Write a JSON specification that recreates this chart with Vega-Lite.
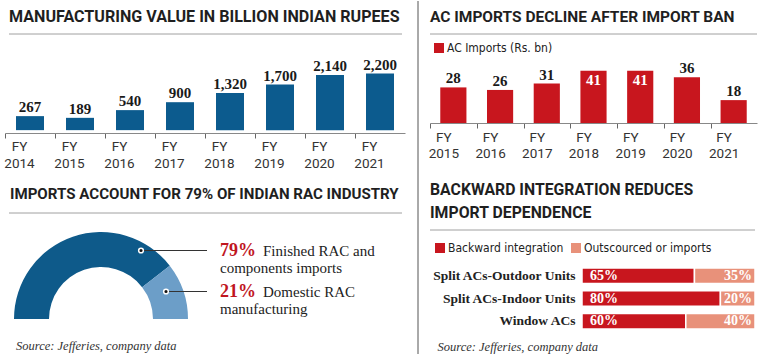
{
  "$schema": "https://vega.github.io/schema/vega-lite/v6.json",
  "padding": {"left": 3, "top": 0, "right": 0, "bottom": 0},
  "columns": 3,
  "spacing": {"row": 97, "column": 12},
  "align": "each",
  "bounds": "flush",
  "resolve": {"scale": {"color": "independent"}, "legend": {"color": "independent"}},
  "config": {
    "view": {"stroke": null},
    "title": {"font": "Roboto", "fontWeight": "bold", "fontSize": 15.5, "color": "#1f1f1f", "anchor": "start", "baseline": "bottom", "offset": 8},
    "axis": {"grid": false}
  },
  "concat": [
    {
      "width": 400,
      "height": 99,
      "title": {"text": "MANUFACTURING VALUE IN BILLION INDIAN RUPEES", "frame": "group", "dx": 4, "fontSize": 16.1},
      "data": {"values": [
        {"year": "2014", "value": 267},
        {"year": "2015", "value": 189},
        {"year": "2016", "value": 540},
        {"year": "2017", "value": 900},
        {"year": "2018", "value": 1320},
        {"year": "2019", "value": 1700},
        {"year": "2020", "value": 2140},
        {"year": "2021", "value": 2200}
      ]},
      "encoding": {
        "x": {"field": "year", "type": "nominal", "sort": null,
          "scale": {"paddingInner": 0.44, "paddingOuter": 0.22},
          "axis": {"title": null, "labelAngle": 0, "labelExpr": "['FY', datum.label]", "labelFont": "Roboto", "labelFontSize": 13.5, "labelColor": "#333", "labelLineHeight": 17, "labelBaseline": "top", "labelPadding": 1, "tickSize": 5, "tickColor": "#666", "domainColor": "#888", "bandPosition": 0, "tickOffset": -11}}
      },
      "layer": [
        {"data": {"values": [{}]}, "mark": {"type": "rule", "color": "#a0a0a0", "strokeWidth": 1}, "encoding": {"x": {"value": 4}, "x2": {"value": 397}, "y": {"value": 0}}},
        {"mark": {"type": "bar", "color": "#0c5b8e"},
         "encoding": {"y": {"field": "value", "type": "quantitative", "scale": {"domain": [-370, 3930]}, "axis": null}, "y2": {"datum": -370}}},
        {"mark": {"type": "text", "font": "Liberation Serif", "fontWeight": "bold", "fontSize": 15, "dy": -4, "baseline": "alphabetic", "color": "#1a1a1a"},
         "encoding": {"y": {"field": "value", "type": "quantitative"}, "text": {"field": "value", "format": ","}}}
      ]
    },
    {
      "width": 1,
      "height": 99,
      "data": {"values": [{}]},
      "mark": {"type": "rule", "color": "#555", "strokeWidth": 1},
      "encoding": {"x": {"value": 1}, "y": {"value": -33}, "y2": {"value": 320}}
    },
    {
      "width": 327,
      "height": 89,
      "title": {"text": "AC IMPORTS DECLINE AFTER IMPORT BAN", "frame": "group", "fontSize": 15.5},
      "data": {"values": [
        {"year": "2015", "value": 28},
        {"year": "2016", "value": 26},
        {"year": "2017", "value": 31},
        {"year": "2018", "value": 41},
        {"year": "2019", "value": 41},
        {"year": "2020", "value": 36},
        {"year": "2021", "value": 18}
      ]},
      "encoding": {
        "x": {"field": "year", "type": "nominal", "sort": null,
          "scale": {"paddingInner": 0.44, "paddingOuter": 0.22},
          "axis": {"title": null, "labelAngle": 0, "labelExpr": "['FY', datum.label]", "labelFont": "Roboto", "labelFontSize": 13.5, "labelColor": "#333", "labelLineHeight": 16, "labelBaseline": "top", "labelPadding": 2, "tickSize": 5, "tickColor": "#666", "domainColor": "#888", "bandPosition": 0, "tickOffset": -10}}
      },
      "layer": [
        {"data": {"values": [{}]}, "mark": {"type": "rule", "color": "#a0a0a0", "strokeWidth": 1}, "encoding": {"x": {"value": 0}, "x2": {"value": "width"}, "y": {"value": 0}}},
        {"mark": {"type": "bar"},
         "encoding": {
           "y": {"field": "value", "type": "quantitative", "scale": {"domain": [0, 66.4]}, "axis": null},
           "color": {"datum": "AC Imports (Rs. bn)", "scale": {"range": ["#c8161e"]},
             "legend": {"orient": "none", "legendX": 3, "legendY": 8, "title": null, "padding": 0, "symbolType": "square", "symbolSize": 100, "symbolStrokeWidth": 0, "labelFont": "DejaVu Sans Condensed, sans-serif", "labelFontSize": 12, "labelColor": "#222", "labelOffset": 2}}
         }},
        {"transform": [{"filter": "datum.value < 40"}],
         "mark": {"type": "text", "font": "Liberation Serif", "fontWeight": "bold", "fontSize": 15, "dy": -4, "baseline": "alphabetic", "color": "#1a1a1a"},
         "encoding": {"y": {"field": "value", "type": "quantitative"}, "text": {"field": "value"}}},
        {"transform": [{"filter": "datum.value >= 40"}],
         "mark": {"type": "text", "font": "Liberation Serif", "fontWeight": "bold", "fontSize": 15, "dy": 14, "baseline": "alphabetic", "color": "#ffffff"},
         "encoding": {"y": {"field": "value", "type": "quantitative"}, "text": {"field": "value"}}}
      ]
    },
    {
      "width": 400,
      "height": 89,
      "title": {"text": "IMPORTS ACCOUNT FOR 79% OF INDIAN RAC INDUSTRY", "frame": "group", "dx": 5, "fontSize": 15.1, "offset": 10},
      "data": {"values": [
        {"part": "Finished RAC and components imports", "line1": "Finished RAC and", "line2": "components imports", "pct": 0.79},
        {"part": "Domestic RAC manufacturing", "line1": "Domestic RAC", "line2": "manufacturing", "pct": 0.21}
      ]},
      "layer": [
        {"data": {"values": [{}]}, "mark": {"type": "rule", "color": "#a0a0a0", "strokeWidth": 1}, "encoding": {"x": {"value": 4}, "x2": {"value": 397}, "y": {"value": -17}}},
        {"mark": {"type": "arc", "innerRadius": 52, "outerRadius": 87},
         "encoding": {
           "theta": {"field": "pct", "type": "quantitative", "stack": true, "scale": {"range": [-1.5708, 1.5708]}},
           "order": {"field": "pct", "sort": "descending"},
           "color": {"field": "part", "type": "nominal", "scale": {"domain": ["Finished RAC and components imports", "Domestic RAC manufacturing"], "range": ["#0e5a8a", "#6c9ec8"]}, "legend": null},
           "x": {"value": 96},
           "y": {"value": "height"}
         }},
        {"transform": [{"filter": "datum.pct > 0.5"}],
         "encoding": {"y": {"field": "part", "type": "nominal", "scale": {"domain": ["Finished RAC and components imports", "Domestic RAC manufacturing"], "range": [0, 82]}, "axis": null}},
         "layer": [
           {"mark": {"type": "rule", "color": "#333", "strokeWidth": 1}, "encoding": {"x": {"value": 136}, "x2": {"value": 202}}},
           {"mark": {"type": "point", "filled": true, "color": "#111", "stroke": "#ffffff", "strokeWidth": 1.5, "size": 22, "opacity": 1}, "encoding": {"x": {"value": 136}}}
         ]},
        {"transform": [{"filter": "datum.pct < 0.5"}],
         "encoding": {"y": {"field": "part", "type": "nominal"}},
         "layer": [
           {"mark": {"type": "rule", "color": "#333", "strokeWidth": 1}, "encoding": {"x": {"value": 161}, "x2": {"value": 202}}},
           {"mark": {"type": "point", "filled": true, "color": "#111", "stroke": "#ffffff", "strokeWidth": 1.5, "size": 22, "opacity": 1}, "encoding": {"x": {"value": 161}}}
         ]},
        {"mark": {"type": "text", "align": "left", "baseline": "alphabetic", "dy": 5, "font": "Liberation Serif", "fontWeight": "bold", "fontSize": 18, "color": "#c0161f"},
         "encoding": {"y": {"field": "part", "type": "nominal"}, "x": {"value": 215}, "text": {"field": "pct", "format": ".0%"}}},
        {"mark": {"type": "text", "align": "left", "baseline": "alphabetic", "dy": 5, "font": "Liberation Serif", "fontSize": 15, "color": "#222"},
         "encoding": {"y": {"field": "part", "type": "nominal"}, "x": {"value": 258}, "text": {"field": "line1"}}},
        {"mark": {"type": "text", "align": "left", "baseline": "alphabetic", "dy": 22, "font": "Liberation Serif", "fontSize": 15, "color": "#222"},
         "encoding": {"y": {"field": "part", "type": "nominal"}, "x": {"value": 215}, "text": {"field": "line2"}}},
        {"data": {"values": [{"src": "Source: Jefferies, company data"}]},
         "mark": {"type": "text", "align": "left", "baseline": "middle", "dy": 27, "font": "Liberation Serif", "fontStyle": "italic", "fontSize": 12.5, "color": "#333"},
         "encoding": {"text": {"field": "src"}, "x": {"value": 11}, "y": {"value": "height"}}}
      ]
    },
    {
      "width": 1,
      "height": 10,
      "data": {"values": [{}]},
      "mark": {"type": "rule", "opacity": 0},
      "encoding": {"x": {"value": 0}, "y": {"value": 0}, "y2": {"value": 1}}
    },
    {
      "width": 325,
      "height": 103,
      "title": {"text": ["BACKWARD INTEGRATION REDUCES", "IMPORT DEPENDENCE"], "frame": "group", "lineHeight": 23, "offset": 8, "fontSize": 15.8},
      "data": {"values": [
        {"type": "Split ACs-Outdoor Units", "part": "Backward integration", "pct": 0.65},
        {"type": "Split ACs-Outdoor Units", "part": "Outscourced or imports", "pct": 0.35},
        {"type": "Split ACs-Indoor Units", "part": "Backward integration", "pct": 0.80},
        {"type": "Split ACs-Indoor Units", "part": "Outscourced or imports", "pct": 0.20},
        {"type": "Window ACs", "part": "Backward integration", "pct": 0.60},
        {"type": "Window ACs", "part": "Outscourced or imports", "pct": 0.40}
      ]},
      "encoding": {
        "y": {"field": "type", "type": "nominal", "sort": ["Split ACs-Outdoor Units", "Split ACs-Indoor Units", "Window ACs"],
          "scale": {"range": [38, 99], "paddingInner": 0.32, "paddingOuter": 0},
          "axis": {"title": null, "domain": false, "ticks": false, "offset": -152, "labelFont": "Liberation Serif", "labelFontWeight": "bold", "labelFontSize": 13.5, "labelColor": "#222", "labelPadding": 7}}
      },
      "layer": [
        {"data": {"values": [{}]}, "mark": {"type": "rule", "color": "#a0a0a0", "strokeWidth": 1}, "encoding": {"x": {"value": 0}, "x2": {"value": "width"}, "y": {"value": 0}}},
        {"mark": {"type": "bar", "stroke": "#ffffff", "strokeWidth": 1.5},
         "encoding": {
           "x": {"field": "pct", "type": "quantitative", "stack": "zero", "scale": {"domain": [0, 1], "range": [152, 325]},
             "axis": {"title": "Source: Jefferies, company data", "domain": false, "ticks": false, "labels": false, "grid": false, "titleFont": "Liberation Serif", "titleFontStyle": "italic", "titleFontWeight": "normal", "titleFontSize": 12.5, "titleColor": "#333", "titleAnchor": "start", "titleAlign": "left", "titleX": 7, "titleY": 13, "titleBaseline": "middle"}},
           "order": {"field": "part", "sort": "ascending"},
           "color": {"field": "part", "type": "nominal",
             "scale": {"domain": ["Backward integration", "Outscourced or imports"], "range": ["#c8161e", "#e8917a"]},
             "legend": {"orient": "none", "legendX": 4, "legendY": 12, "direction": "horizontal", "title": null, "padding": 0, "symbolType": "square", "symbolSize": 100, "symbolStrokeWidth": 0, "labelFont": "DejaVu Sans Condensed, sans-serif", "labelFontSize": 12, "labelColor": "#222", "labelOffset": 2, "columnPadding": 6}}
         }},
        {"transform": [{"filter": "datum.part == 'Backward integration'"}],
         "mark": {"type": "text", "align": "left", "baseline": "middle", "dx": 8, "font": "Liberation Serif", "fontWeight": "bold", "fontSize": 14, "color": "#ffffff"},
         "encoding": {"x": {"datum": 0, "type": "quantitative"}, "text": {"field": "pct", "format": ".0%"}}},
        {"transform": [{"filter": "datum.part != 'Backward integration'"}],
         "mark": {"type": "text", "align": "right", "baseline": "middle", "dx": -3, "font": "Liberation Serif", "fontWeight": "bold", "fontSize": 14, "color": "#ffffff"},
         "encoding": {"x": {"datum": 1, "type": "quantitative"}, "text": {"field": "pct", "format": ".0%"}}}
      ]
    }
  ]
}
